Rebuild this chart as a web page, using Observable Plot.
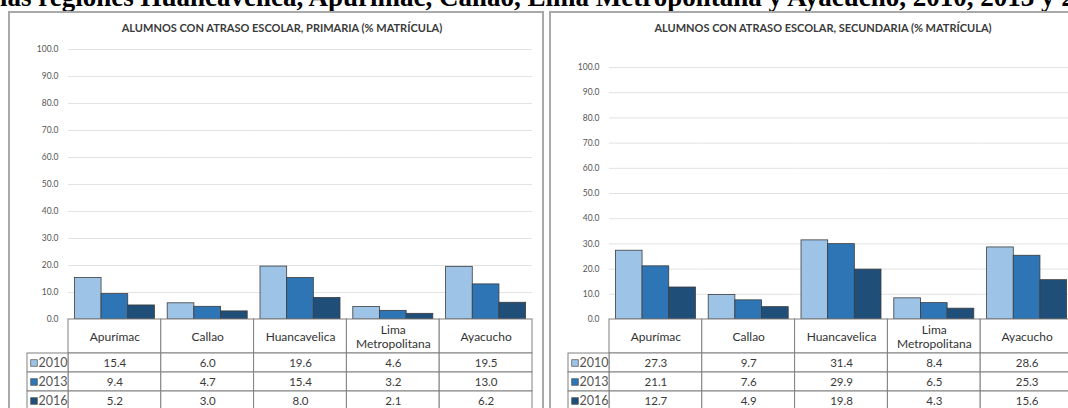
<!DOCTYPE html>
<html><head><meta charset="utf-8">
<script src="https://cdn.jsdelivr.net/npm/d3@7"></script>
<script src="https://cdn.jsdelivr.net/npm/@observablehq/plot@0.6"></script>
<style>
html,body{margin:0;padding:0;background:#fff;}
#root{position:relative;width:1068px;height:408px;overflow:hidden;font-family:Lato,"Open Sans",sans-serif;}
#title{position:absolute;left:0px;top:-16px;white-space:nowrap;font:bold 27px "Liberation Serif","Times New Roman",serif;line-height:27px;color:#000;}
.frame{position:absolute;top:11px;height:420px;border:2px solid #a9a9a9;box-sizing:border-box;}
.ptitle{position:absolute;top:21px;width:564px;text-align:center;font:bold 11px Lato,sans-serif;color:#3a3a3a;white-space:nowrap;}
.abs{position:absolute;}
.abs svg{max-width:none !important;}
</style></head><body><div id="root"></div>
<script>
const mainTitle = "las regiones Huancavelica, Apurímac, Callao, Lima Metropolitana y Ayacucho, 2010, 2013 y 2016";
const panelTitles = ["ALUMNOS CON ATRASO ESCOLAR, PRIMARIA (% MATRÍCULA)", "ALUMNOS CON ATRASO ESCOLAR, SECUNDARIA (% MATRÍCULA)"];
const regions = ["Apurímac", "Callao", "Huancavelica", "Lima Metropolitana", "Ayacucho"];
const regionLabels = ["Apurímac", "Callao", "Huancavelica", "Lima\nMetropolitana", "Ayacucho"];
const years = ["2010", "2013", "2016"];
const primaria2010 = [15.4, 6.0, 19.6, 4.6, 19.5];
const primaria2013 = [9.4, 4.7, 15.4, 3.2, 13.0];
const primaria2016 = [5.2, 3.0, 8.0, 2.1, 6.2];
const secundaria2010 = [27.3, 9.7, 31.4, 8.4, 28.6];
const secundaria2013 = [21.1, 7.6, 29.9, 6.5, 25.3];
const secundaria2016 = [12.7, 4.9, 19.8, 4.3, 15.6];
const yTicks = [0, 10, 20, 30, 40, 50, 60, 70, 80, 90, 100];
const seriesColors = ["#9dc3e6", "#2e75b6", "#1f4e79"];

const root = document.getElementById("root");
const t = document.createElement("div");
t.id = "title"; t.textContent = mainTitle; root.appendChild(t);

function place(el, left, top, w, h) {
  const d = document.createElement("div");
  d.className = "abs"; d.style.left = left + "px"; d.style.top = top + "px";
  d.style.width = w + "px"; d.style.height = h + "px";
  d.appendChild(el); root.appendChild(d);
}

function panel(offset, title, series, marginTop) {
  const f = document.createElement("div");
  f.className = "frame"; f.style.left = (offset + 8) + "px"; f.style.width = "536px";
  root.appendChild(f);
  const pt = document.createElement("div");
  pt.className = "ptitle"; pt.style.left = offset + "px"; pt.textContent = title;
  root.appendChild(pt);

  const rows = regions.flatMap((r, i) => years.map((y, j) => ({region: r, year: y, value: series[j][i]})));

  const chart = Plot.plot({
    width: 545, height: 320, marginLeft: 68, marginRight: 13, marginTop, marginBottom: 1,
    style: {overflow: "visible", fontFamily: "Lato, sans-serif", fontSize: "8.5px", color: "#555", background: "transparent", maxWidth: "none"},
    fx: {domain: regions, padding: 0, axis: null, round: false},
    x: {domain: years, paddingInner: 0, paddingOuter: 0.24, axis: null, round: false},
    y: {domain: [0, 100], ticks: yTicks, tickFormat: d3.format(".1f"), tickSize: 0, tickPadding: 10, label: null},
    color: {domain: years, range: seriesColors},
    marks: [
      Plot.ruleY(yTicks, {stroke: "#e2e2e2", strokeWidth: 1}),
      Plot.barY(rows, {fx: "region", x: "year", y: "value", fill: "year", stroke: "#3c3c3c", strokeWidth: 0.8})
    ]
  });
  place(chart, offset, 0, 545, 320);

  const header = Plot.plot({
    width: 545, height: 34, marginLeft: 68, marginRight: 13, marginTop: 0, marginBottom: 0,
    style: {overflow: "visible", fontFamily: "Lato, sans-serif", background: "transparent", maxWidth: "none"},
    x: {domain: regions, padding: 0, axis: null, round: false},
    marks: [
      Plot.cell(regions, {x: d => d, fill: "white", stroke: "#808080"}),
      Plot.text(regions, {x: d => d, text: (d, i) => regionLabels[i], fontSize: 12, fill: "#333", lineHeight: 1.2})
    ]
  });
  place(header, offset, 319, 545, 34);

  const body = Plot.plot({
    width: 545, height: 57, marginLeft: 68, marginRight: 13, marginTop: 0, marginBottom: 0,
    style: {overflow: "visible", fontFamily: "Lato, sans-serif", background: "transparent", maxWidth: "none"},
    x: {domain: regions, padding: 0, axis: null, round: false},
    y: {domain: years, padding: 0, axis: null, round: false},
    marks: [
      Plot.cell(rows, {x: "region", y: "year", fill: "white", stroke: "#808080"}),
      Plot.text(rows, {x: "region", y: "year", text: d => d.value.toFixed(1), fontSize: 11.5, fill: "#3a3a3a"})
    ]
  });
  place(body, offset, 353, 545, 57);

  const legend = Plot.plot({
    width: 41, height: 57, margin: 0,
    style: {overflow: "visible", fontFamily: "Lato, sans-serif", background: "transparent", maxWidth: "none"},
    y: {domain: years, padding: 0, axis: null, round: false},
    color: {domain: years, range: seriesColors},
    marks: [
      Plot.cell(years, {y: d => d, fill: "white", stroke: "#808080"}),
      Plot.dot(years, {y: d => d, frameAnchor: "left", dx: 6.5, symbol: "square", r: 3.8, fill: d => d, stroke: "#555", strokeWidth: 0.7}),
      Plot.text(years, {y: d => d, frameAnchor: "left", dx: 11, textAnchor: "start", text: d => d, fontSize: 12.5, fill: "#555", letterSpacing: "0.3px"})
    ]
  });
  place(legend, offset + 27, 353, 41, 57);
}

panel(0, panelTitles[0], [primaria2010, primaria2013, primaria2016], 49);
panel(541, panelTitles[1], [secundaria2010, secundaria2013, secundaria2016], 67);
</script></body></html>
